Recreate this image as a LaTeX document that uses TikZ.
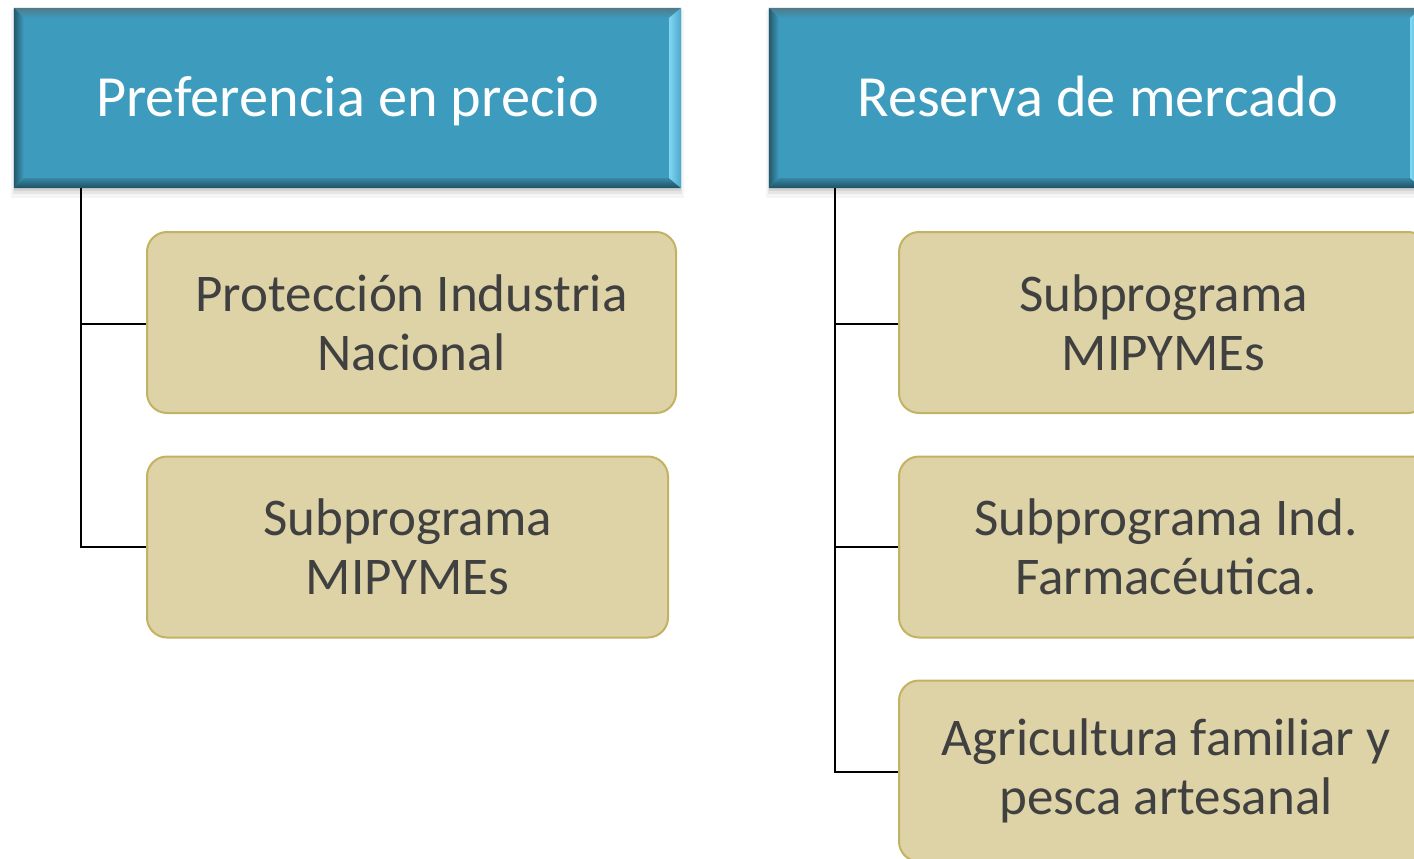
\documentclass[tikz,border=0pt]{standalone}
\usepackage{fontspec}
\setmainfont{Carlito}
\usetikzlibrary{calc}
\definecolor{hdrblue}{HTML}{3D9BBE}
\definecolor{hdrdark}{HTML}{24586B}
\definecolor{hdrlight}{HTML}{80D6F2}
\definecolor{childfill}{HTML}{DDD3A7}
\definecolor{childline}{HTML}{C4B263}
\definecolor{txtgray}{HTML}{404040}
\tikzset{
  hdrbox/.style={rectangle, fill=hdrblue, inner sep=0pt, minimum height=180pt},
  hdrtext/.style={inner sep=0pt, text=white, align=center, anchor=base, font=\fontsize{58.3}{70}\selectfont},
  childbox/.style={rectangle, rounded corners=20pt, fill=childfill, draw=childline,
    line width=2pt, inner sep=0pt, text=txtgray, align=center, minimum height=181pt,
    font=\fontsize{53}{59}\selectfont},
  link/.style={draw=black, line width=1.2pt},
}
\newcommand{\bevel}[1]{%
  \fill[black, opacity=0.04] ($(#1.north west)+(-3,2)$) rectangle ($(#1.south east)+(3,10)$);
  \fill[black, opacity=0.06] ($(#1.north west)+(-1,1)$) rectangle ($(#1.south east)+(1,6)$);
  \fill[black, opacity=0.08] ($(#1.north west)+(0,0)$) rectangle ($(#1.south east)+(0,3)$);
  \fill[hdrblue] (#1.north west) rectangle (#1.south east);
  \shade[top color=hdrdark!80, bottom color=hdrblue] (#1.north west) -- (#1.north east) -- ($(#1.north east)+(-12,10)$) -- ($(#1.north west)+(10,10)$) -- cycle;
  \shade[left color=hdrdark, right color=hdrblue] (#1.north west) -- ($(#1.north west)+(10,10)$) -- ($(#1.south west)+(10,-10)$) -- (#1.south west) -- cycle;
  \shade[top color=hdrblue!70!hdrdark, bottom color=hdrdark!90!black] (#1.south west) -- ($(#1.south west)+(10,-10)$) -- ($(#1.south east)+(-12,-10)$) -- (#1.south east) -- cycle;
  \shade[left color=hdrlight, right color=hdrblue!80!hdrlight] (#1.north east) -- ($(#1.north east)+(-12,10)$) -- ($(#1.south east)+(-12,-10)$) -- (#1.south east) -- cycle;
}
\begin{document}
\begin{tikzpicture}[x=1pt, y=-1pt]
\useasboundingbox (0,0) rectangle (1414,859);
\clip (0,0) rectangle (1414,859);
\fill[white] (0,0) rectangle (1414,859);

\coordinate (lt) at (81,188);
\coordinate (rt) at (835,188);

% headers
\node[hdrbox, minimum width=667pt] (h1) at (347.5,98) {};
\bevel{h1}
\node[hdrtext] (h1t) at (347.5,116) {Preferencia en precio};
\node[hdrbox, minimum width=653pt] (h2) at (1095.5,98) {};
\bevel{h2}
\node[hdrtext] (h2t) at (1097.5,116) {Reserva de mercado};

% children
\node[childbox, minimum width=529pt] (c1) at (411.5,322.5) {Protección Industria\\Nacional};
\node[childbox, minimum width=521pt] (c2) at (407.5,547) {Subprograma\\MIPYMEs};
\node[childbox, minimum width=529pt] (d1) at (1163.5,322.5) {Subprograma\\MIPYMEs};
\node[childbox, minimum width=534pt] (d2) at (1166,547) {Subprograma Ind.\\Farmacéutica.};
\node[childbox, minimum width=534pt] (d3) at (1166,771) {Agricultura familiar y\\pesca artesanal};

\coordinate (l1) at (81,324);
\coordinate (l2) at (81,547);
\coordinate (r1) at (835,324);
\coordinate (r2) at (835,547);
\coordinate (r3) at (835,772);

\draw[link] (lt) -- (l2) -- (c2.west |- l2);
\draw[link] (l1) -- (c1.west |- l1);
\draw[link] (rt) -- (r3) -- (d3.west |- r3);
\draw[link] (r1) -- (d1.west |- r1);
\draw[link] (r2) -- (d2.west |- r2);
\end{tikzpicture}
\end{document}
